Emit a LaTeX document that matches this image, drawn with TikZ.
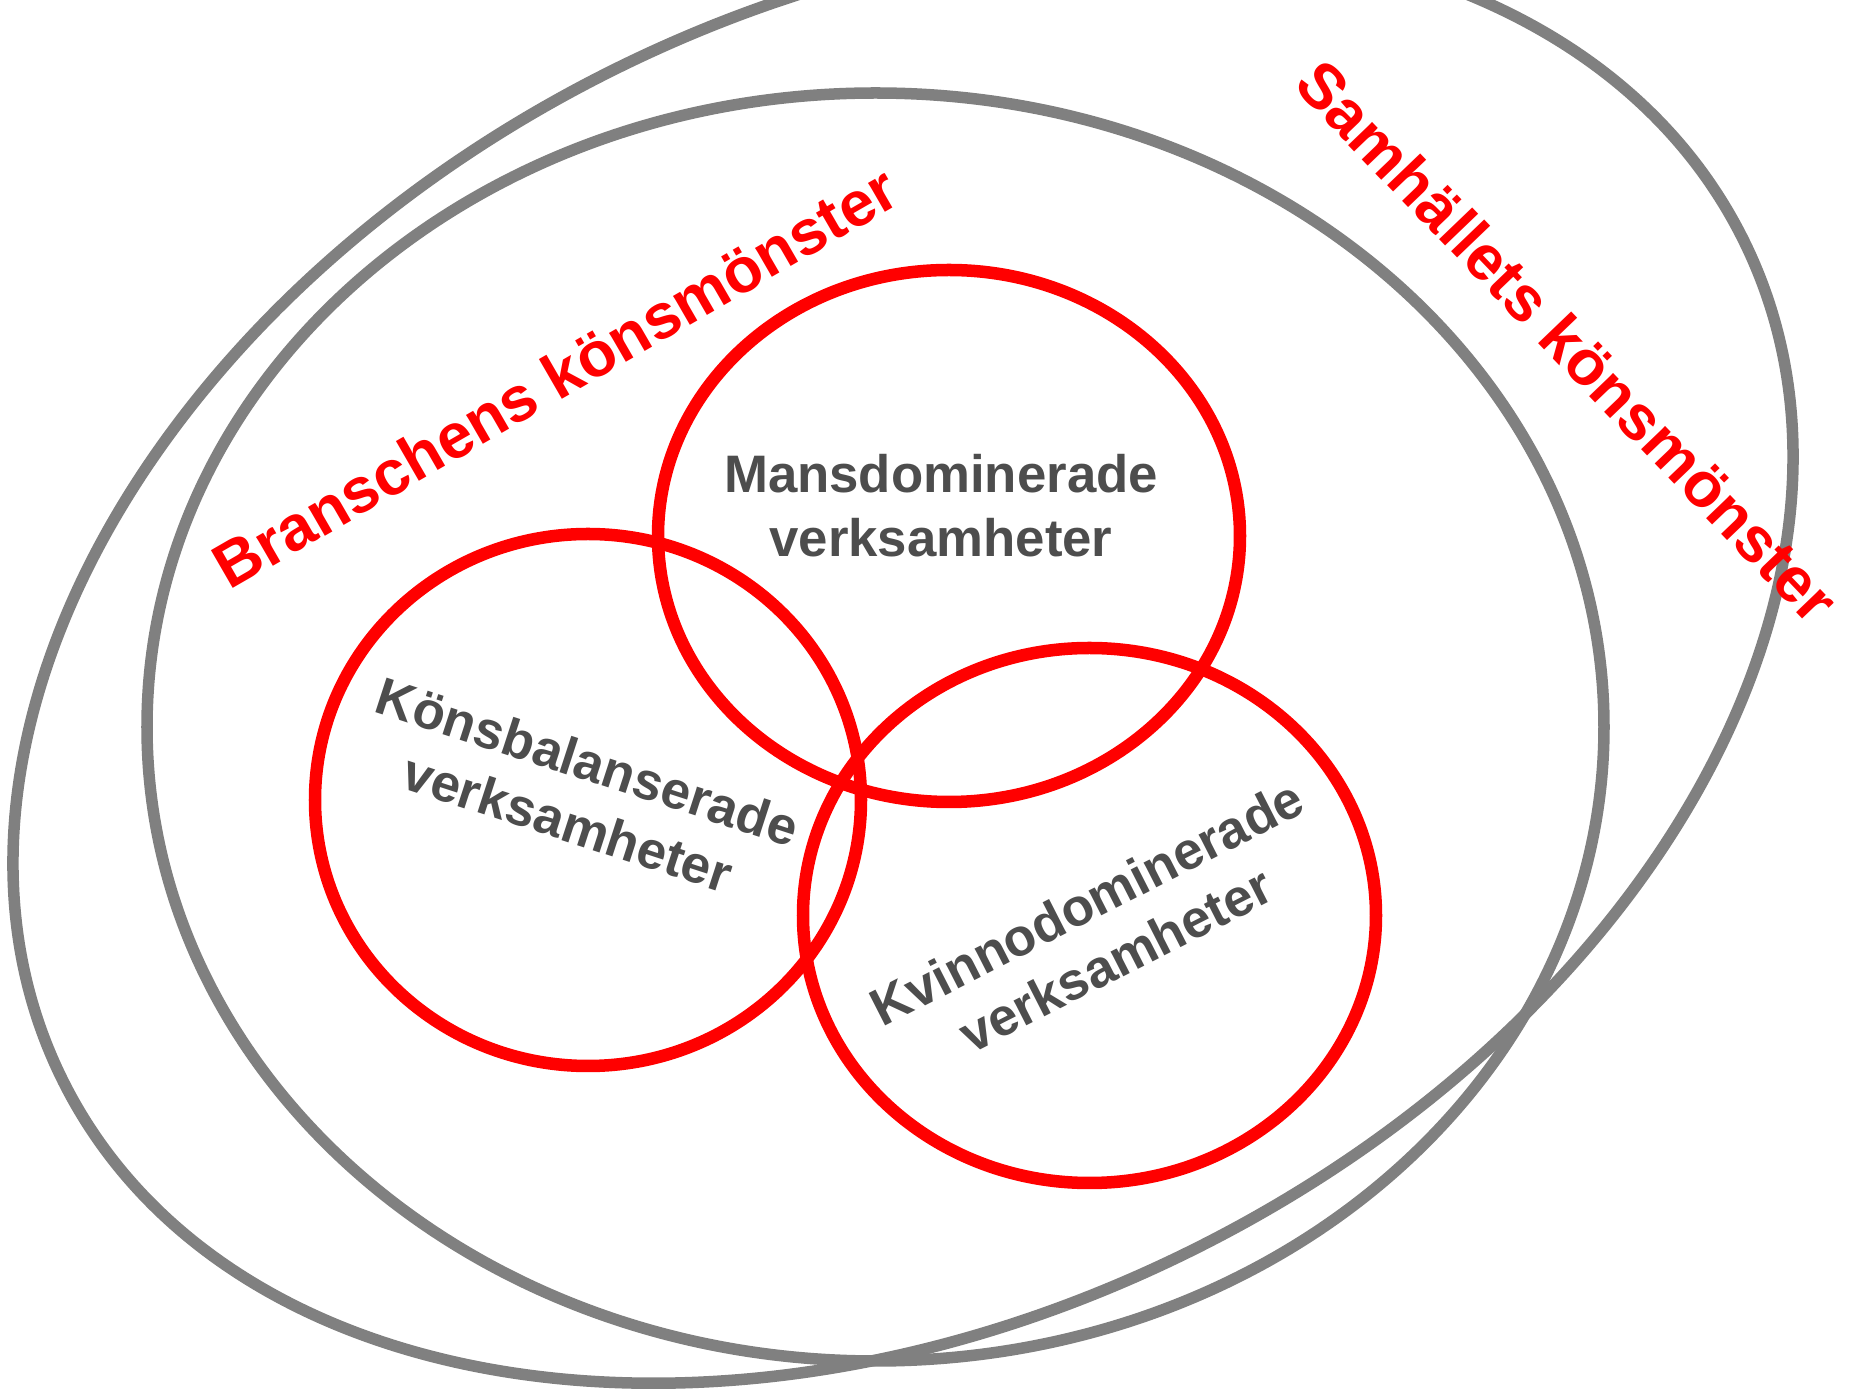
\documentclass[tikz,border=0pt]{standalone}
\usepackage{fontspec}
\setmainfont{Liberation Sans}
\definecolor{ringgray}{HTML}{808080}
\definecolor{txtgray}{HTML}{4D4D4D}
\definecolor{ringred}{HTML}{FF0000}
\begin{document}
\begin{tikzpicture}[x=0.01cm,y=0.01cm,
  grayring/.style={draw=ringgray, line width=0.115cm},
  redring/.style={draw=ringred, line width=0.125cm},
  blocktext/.style={text=txtgray, font=\bfseries\fontsize{15}{18.2}\selectfont, align=center, inner sep=0pt},
  brtext/.style={text=ringred, font=\bfseries\fontsize{18}{21}\selectfont, inner sep=0pt},
  satext/.style={text=ringred, font=\bfseries\fontsize{18}{21.5}\selectfont, inner sep=0pt}]
\useasboundingbox (0,0) rectangle (1865,1390);
\clip (0,0) rectangle (1865,1390);
\fill[white] (0,0) rectangle (1865,1390);
% society pattern (tilted) and industry pattern
\draw[grayring, rotate around={26.7:(903,730)}] (903,730) ellipse [x radius=939.6, y radius=657.3];
\draw[grayring] (875.5,663) ellipse [x radius=728.5, y radius=634];
% three activity circles
\draw[redring] (949,854) ellipse [x radius=291, y radius=266];
\draw[redring] (588,590) ellipse [x radius=273, y radius=266];
\draw[redring] (1089.5,474.5) ellipse [x radius=286.5, y radius=267.5];
% labels
\node[blocktext] (mans) at (941,884) {Mansdominerade\\verksamheter};
\node[blocktext, rotate=-18] (kons) at (578,598) {Könsbalanserade\\verksamheter};
\node[blocktext, rotate=27] (kvinno) at (1101,459) {Kvinnodominerade\\verksamheter};
\node[brtext, rotate=30] (bransch) at (555,1013) {Branschens könsmönster};
\node[satext, rotate=-46.2] (samh) at (1568,1049) {Samhällets könsmönster};
\end{tikzpicture}
\end{document}
